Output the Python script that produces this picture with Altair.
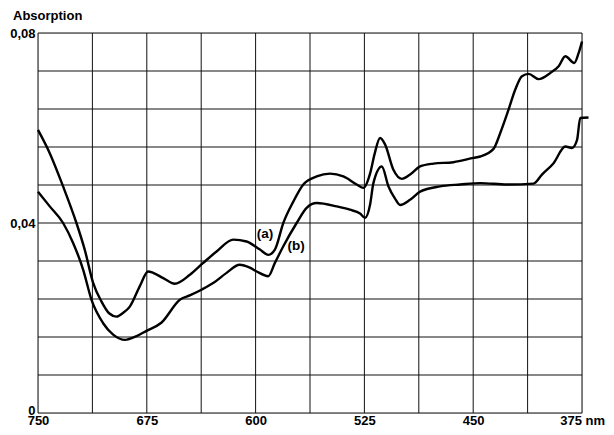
import altair as alt
import pandas as pd

# Curve (a)
a_nm = [750, 741.9, 732.7, 723.5, 717.8, 712, 706.3, 701, 695.9, 691.3, 686.7, 679.8, 674.1, 670.6,
        663.7, 655.7, 645.3, 636.1, 626.9, 615.4, 606.2, 597, 591.3, 586.7, 580.9, 574, 567.1, 557.9,
        548.7, 539.5, 530.3, 525.7, 521, 518, 514.2, 510.7, 505, 499.2, 493.5, 486.6, 477.4, 463.6,
        449.8, 445.2, 436, 431.4, 425.7, 421, 416.4, 411.8, 404.9, 396.8, 391.1, 386.5, 380.3, 377.3, 375]
a_abs = [0.0596, 0.0547, 0.0477, 0.0400, 0.0344, 0.0274, 0.0235, 0.0210, 0.0203, 0.0211, 0.0224, 0.0267,
         0.0298, 0.0295, 0.0284, 0.0272, 0.0291, 0.0316, 0.0340, 0.0365, 0.0361, 0.0344, 0.0333, 0.0344,
         0.0400, 0.0445, 0.0481, 0.0498, 0.0504, 0.0498, 0.0481, 0.0474, 0.0505, 0.0545, 0.0579, 0.0565,
         0.0512, 0.0493, 0.0502, 0.0519, 0.0525, 0.0528, 0.0537, 0.0540, 0.0556, 0.0589, 0.0638, 0.0681,
         0.0709, 0.0714, 0.0703, 0.0716, 0.0730, 0.0751, 0.0737, 0.0758, 0.0782]

# Curve (b)
b_nm = [750, 741.9, 732.7, 725.8, 718.9, 713.1, 705.1, 698.2, 690, 682, 675.2, 665, 652, 645, 637, 629,
        620, 611, 604, 599.3, 591.3, 586.7, 580.9, 571.7, 564.8, 557.9, 544.1, 535, 528, 524.5, 521,
        518.8, 513, 508.4, 504, 500.4, 493.5, 486.6, 472.8, 459, 445, 426.8, 408.4, 402.6, 394.6,
        386.5, 381.9, 378.4, 376.2, 370.5]
b_abs = [0.0466, 0.0435, 0.0400, 0.0358, 0.0302, 0.0238, 0.0189, 0.0165, 0.0154, 0.0162, 0.0173, 0.0190,
         0.0239, 0.0248, 0.0260, 0.0274, 0.0295, 0.0312, 0.0306, 0.0298, 0.0288, 0.0316, 0.0351, 0.0400,
         0.0432, 0.0442, 0.0435, 0.0428, 0.0420, 0.0411, 0.0440, 0.0484, 0.0519, 0.0477, 0.0452, 0.0438,
         0.0449, 0.0466, 0.0477, 0.0481, 0.0484, 0.0481, 0.0483, 0.0502, 0.0526, 0.0561, 0.0558, 0.0575,
         0.0621, 0.0622]

label_text = ["(a)", "(b)"]
label_nm = [593.5, 572.0]
label_abs = [0.0377, 0.0352]

x_grid = [750 - 37.5 * i for i in range(11)]
y_grid = [round(0.008 * i, 3) for i in range(11)]
x_ticks = [750, 675, 600, 525, 450]
y_ticks = [0, 0.04, 0.08]
x_unit_label = "375 nm"

rows = []
for i, (n, v) in enumerate(zip(a_nm, a_abs)):
    rows.append({"nm": n, "A": v, "curve": "a", "i": i})
for i, (n, v) in enumerate(zip(b_nm, b_abs)):
    rows.append({"nm": n, "A": v, "curve": "b", "i": i})
df = pd.DataFrame(rows)
lab = pd.DataFrame({"t": label_text, "nm": label_nm, "A": label_abs})

FONT = "Liberation Sans"
FS = 13

xscale = alt.Scale(domain=[375, 750], reverse=True, nice=False, zero=False)
yscale = alt.Scale(domain=[0, 0.08], nice=False)

xaxis = alt.Axis(values=x_ticks, grid=False, ticks=False, domain=False, title=None,
                 labelFont=FONT, labelFontSize=FS, labelFontWeight="bold", labelColor="black",
                 labelPadding=1.5, labelOverlap=False, labelFlush=False)
yaxis = alt.Axis(values=y_ticks, grid=False, ticks=False, domain=False, title=None,
                 labelFont=FONT, labelFontSize=FS, labelFontWeight="bold", labelColor="black",
                 labelPadding=3, labelOverlap=False, labelFlush=False,
                 labelOffset={"condition": {"test": "datum.value == 0", "value": -2.5}, "value": 0},
                 labelExpr="datum.value == 0 ? '0' : replace(format(datum.value, '.2f'), '.', ',')")

vgrid = alt.Chart(pd.DataFrame({"g": x_grid})).mark_rule(color="#111", strokeWidth=1).encode(
    x=alt.X("g:Q", scale=xscale, axis=xaxis)
)
hgrid = alt.Chart(pd.DataFrame({"g": y_grid})).mark_rule(color="#111", strokeWidth=1).encode(
    y=alt.Y("g:Q", scale=yscale, axis=yaxis)
)

lines = alt.Chart(df).mark_line(color="black", strokeWidth=2.4, interpolate="monotone").encode(
    x=alt.X("nm:Q", scale=xscale, axis=xaxis),
    y=alt.Y("A:Q", scale=yscale, axis=yaxis),
    detail="curve:N",
    order="i:Q",
)

labels = alt.Chart(lab).mark_text(font=FONT, fontSize=13.5, fontWeight="bold", color="black").encode(
    x=alt.X("nm:Q", scale=xscale),
    y=alt.Y("A:Q", scale=yscale),
    text="t:N",
)

title = alt.Chart(pd.DataFrame({"t": ["Absorption"]})).mark_text(
    font=FONT, fontSize=13, color="black", align="left", baseline="middle", fontWeight="bold"
).encode(x=alt.value(-25), y=alt.value(-17), text="t:N")

unit = alt.Chart(pd.DataFrame({"t": [x_unit_label]})).mark_text(
    font=FONT, fontSize=FS, color="black", align="right", baseline="alphabetic", fontWeight="bold"
).encode(x=alt.value(567), y=alt.value(391.6), text="t:N")

chart = alt.layer(vgrid, hgrid, lines, labels, title, unit).properties(
    width=544, height=380,
    autosize=alt.AutoSizeParams(type="none"),
    padding={"left": 30, "top": 25, "right": 24, "bottom": 14},
).configure_view(stroke="black", strokeWidth=1.2).configure(background="white")

chart.save("out.html", embed_options={"renderer": "svg", "actions": False})
